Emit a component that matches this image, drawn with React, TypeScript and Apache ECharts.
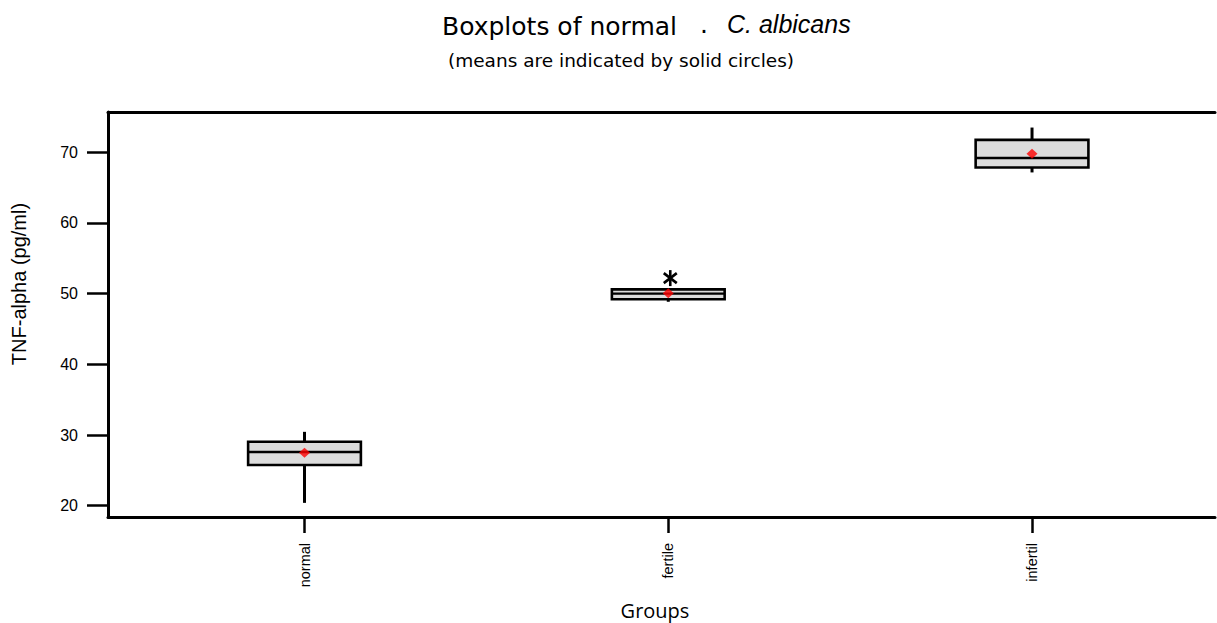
import React, { useEffect, useRef } from 'react';
import * as echarts from 'echarts';

const categories = ['normal', 'fertile', 'infertil'];
const positions = [1, 2, 3];
const whiskerLow = [20.4, 48.85, 67.15];
const q1 = [25.75, 49.2, 67.85];
const median = [27.6, 50.0, 69.2];
const q3 = [29.05, 50.6, 71.75];
const whiskerHigh = [30.45, 50.7, 73.5];
const means = [27.5, 50.05, 69.8];
const outlierPos = [2];
const outlierVal = [52.2];
const yTicks = [20, 30, 40, 50, 60, 70];

const SANS = '"Liberation Sans", Arial, sans-serif';
const WIDE = '"DejaVu Sans", sans-serif';

export default function App() {
  const ref = useRef<HTMLDivElement>(null);

  useEffect(() => {
    document.body.style.margin = '0';
    const chart = echarts.init(ref.current as HTMLDivElement, null, { renderer: 'svg' });

    const boxData = positions.map((p, i) => [p, whiskerLow[i], q1[i], median[i], q3[i], whiskerHigh[i]]);
    const meanData = positions.map((p, i) => [p, means[i]]);
    const outlierData = outlierPos.map((p, i) => [p, outlierVal[i]]);

    const xMin = 0.4598;
    const xMax = 3.503;
    const axisLineStyle = { color: '#000', width: 3 };

    const option: any = {
      animation: false,
      backgroundColor: '#fff',
      grid: { left: 108, top: 112, right: 2, bottom: 106, containLabel: false },
      xAxis: [
        {
          type: 'value',
          min: xMin,
          max: xMax,
          position: 'bottom',
          axisLine: { show: true, onZero: false, lineStyle: axisLineStyle },
          axisTick: { show: true, customValues: positions, length: 16, lineStyle: { color: '#000', width: 2.5 } },
          axisLabel: {
            show: true,
            customValues: positions,
            rotate: 90,
            margin: 26,
            color: '#000',
            fontFamily: SANS,
            fontSize: 14.5,
            formatter: (v: number) => {
              const idx = positions.indexOf(Math.round(v));
              return idx >= 0 ? categories[idx] : '';
            },
          },
          splitLine: { show: false },
        },
        {
          type: 'value',
          min: xMin,
          max: xMax,
          position: 'top',
          axisLine: { show: true, onZero: false, lineStyle: axisLineStyle },
          axisTick: { show: false },
          axisLabel: { show: false },
          splitLine: { show: false },
        },
      ],
      yAxis: {
        type: 'value',
        min: 18.4,
        max: 75.7,
        axisLine: { show: true, onZero: false, lineStyle: axisLineStyle },
        axisTick: { show: true, customValues: yTicks, length: 21, lineStyle: { color: '#000', width: 2.5 } },
        axisLabel: { show: true, customValues: yTicks, margin: 30, color: '#000', fontFamily: SANS, fontSize: 16 },
        splitLine: { show: false },
      },
      graphic: [
        { type: 'text', left: 442, top: 14, style: { text: 'Boxplots of normal', font: `25px ${WIDE}`, fill: '#000' } },
        { type: 'text', x: 700, y: 31, style: { text: '·', font: `25px ${WIDE}`, fill: '#000', verticalAlign: 'middle' } },
        { type: 'text', x: 727, y: 24, style: { text: 'C. albicans', font: `italic 25px ${SANS}`, fill: '#000', verticalAlign: 'middle' } },
        { type: 'text', x: 448, y: 60, style: { text: '(means are indicated by solid circles)', font: `18.5px ${WIDE}`, fill: '#000', verticalAlign: 'middle' } },
        { type: 'text', x: 19, y: 284, rotation: Math.PI / 2, style: { text: 'TNF-alpha (pg/ml)', font: `20px ${SANS}`, fill: '#000', align: 'center', verticalAlign: 'middle' } },
        { type: 'text', x: 655, y: 610, style: { text: 'Groups', font: `20px "Open Sans", sans-serif`, fill: '#000', align: 'center', verticalAlign: 'middle' } },
      ],
      series: [
        {
          type: 'custom',
          name: 'box',
          xAxisIndex: 0,
          yAxisIndex: 0,
          data: boxData,
          encode: { x: 0, y: [1, 2, 3, 4, 5] },
          clip: false,
          z: 2,
          renderItem: (params: any, api: any) => {
            const x = api.value(0);
            const half = api.size([1, 0])[0] * 0.155;
            const pLow = api.coord([x, api.value(1)]);
            const pQ1 = api.coord([x, api.value(2)]);
            const pMed = api.coord([x, api.value(3)]);
            const pQ3 = api.coord([x, api.value(4)]);
            const pHigh = api.coord([x, api.value(5)]);
            const cx = pQ1[0];
            const ws = { stroke: '#000', lineWidth: 3 };
            return {
              type: 'group',
              children: [
                { type: 'line', shape: { x1: cx, y1: pLow[1], x2: cx, y2: pQ1[1] }, style: ws },
                { type: 'line', shape: { x1: cx, y1: pQ3[1], x2: cx, y2: pHigh[1] }, style: ws },
                {
                  type: 'rect',
                  shape: { x: cx - half, y: pQ3[1], width: 2 * half, height: pQ1[1] - pQ3[1] },
                  style: { fill: '#dcdcdc', stroke: '#000', lineWidth: 2.6 },
                },
                { type: 'line', shape: { x1: cx - half, y1: pMed[1], x2: cx + half, y2: pMed[1] }, style: { stroke: '#000', lineWidth: 2.4 } },
              ],
            };
          },
        },
        {
          type: 'custom',
          name: 'outlier',
          xAxisIndex: 0,
          yAxisIndex: 0,
          data: outlierData,
          encode: { x: 0, y: 1 },
          clip: false,
          z: 3,
          renderItem: (params: any, api: any) => {
            const p = api.coord([api.value(0), api.value(1)]);
            const cx = p[0] + 2;
            const cy = p[1];
            const st = { stroke: '#000', lineWidth: 2.6 };
            return {
              type: 'group',
              children: [
                { type: 'line', shape: { x1: cx, y1: cy - 8, x2: cx, y2: cy + 8 }, style: st },
                { type: 'line', shape: { x1: cx - 6.5, y1: cy - 5, x2: cx + 6.5, y2: cy + 5 }, style: st },
                { type: 'line', shape: { x1: cx - 6.5, y1: cy + 5, x2: cx + 6.5, y2: cy - 5 }, style: st },
              ],
            };
          },
        },
        {
          type: 'scatter',
          name: 'mean',
          xAxisIndex: 0,
          yAxisIndex: 0,
          data: meanData,
          symbol: 'diamond',
          symbolSize: [11, 10],
          itemStyle: { color: '#ff0000' },
          z: 5,
        },
      ],
    };

    chart.setOption(option);
    return () => {
      chart.dispose();
    };
  }, []);

  return <div ref={ref} style={{ width: 1217, height: 623 }} />;
}
